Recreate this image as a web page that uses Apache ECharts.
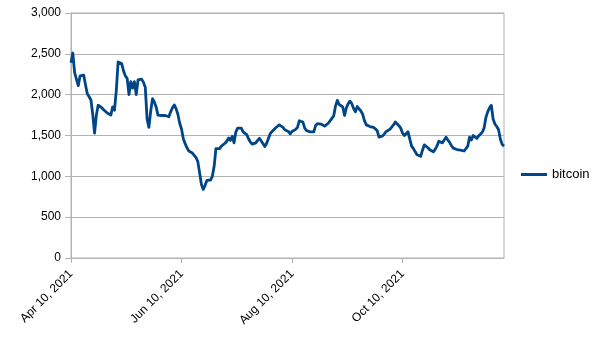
<!DOCTYPE html>
<html>
<head>
<meta charset="utf-8">
<script src="https://cdn.jsdelivr.net/npm/echarts@6/dist/echarts.min.js"></script>
<style>
html,body{margin:0;padding:0;background:#fff;}
#chart{width:605px;height:340px;}
</style>
</head>
<body>
<div id="chart"></div>
<script>
// Daily series starting Apr 10, 2021
var startDate = "2021-04-10";
var seriesName = "bitcoin";
var bitcoin = [
2390,2510,2270,2190,2110,2230,2250,2240,2120,2010,
1975,1935,1760,1530,1750,1870,1860,1840,1815,1800,
1775,1790,1750,1850,1810,2050,2400,2420,2380,2290,
2230,2200,2000,2160,2080,2160,2000,2180,2200,2190,
2150,2090,1700,1600,1800,1950,1910,1850,1750,1745,
1745,1740,1745,1750,1730,1790,1840,1875,1830,1760,
1650,1580,1460,1400,1350,1310,1295,1285,1265,1230,
1180,1040,900,840,890,950,955,955,1000,1120,
1340,1360,1340,1370,1380,1405,1430,1470,1440,1490,
1410,1545,1590,1610,1590,1545,1530,1510,1460,1420,
1395,1385,1410,1440,1465,1445,1400,1365,1405,1410,
1525,1550,1570,1595,1610,1630,1625,1600,1570,1590,
1550,1520,1550,1565,1575,1600,1680,1690,1665,1590,
1560,1550,1545,1535,1545,1620,1645,1650,1640,1630,
1615,1610,1650,1680,1710,1740,1860,1930,1880,1890,
1850,1745,1840,1890,1920,1890,1830,1790,1855,1845,
1800,1760,1680,1630,1620,1610,1605,1600,1585,1560,
1480,1460,1495,1520,1550,1565,1575,1590,1630,1665,
1650,1620,1590,1530,1500,1490,1545,1540,1370,1340,
1300,1265,1245,1245,1320,1385,1380,1350,1325,1305,
1300,1330,1370,1430,1420,1410,1420,1480,1445,1415,
1375,1345,1330,1328,1325,1322,1320,1310,1305,1370,
1480,1445,1500,1500,1465,1495,1500,1540,1590,1720,
1790,1840,1870,1700,1640,1610,1570,1455,1390,1370
];
var yTicks = [0, 500, 1000, 1500, 2000, 2500, 3000];
var labelEvery = 61; // Apr 10, Jun 10, Aug 10, Oct 10

var monthNames = ["Jan","Feb","Mar","Apr","May","Jun","Jul","Aug","Sep","Oct","Nov","Dec"];
var categories = [];
(function(){
  var p = startDate.split("-");
  var d0 = Date.UTC(+p[0], +p[1]-1, +p[2]);
  for (var i = 0; i < bitcoin.length; i++) {
    var d = new Date(d0 + i*86400000);
    categories.push(monthNames[d.getUTCMonth()] + " " + d.getUTCDate() + ", " + d.getUTCFullYear());
  }
})();

var font = "'Liberation Sans', Arial, sans-serif";
var chart = echarts.init(document.getElementById('chart'), null, {renderer:'canvas'});
chart.setOption({
  animation: false,
  backgroundColor: '#ffffff',
  grid: {left: 71, right: 101, top: 13, bottom: 82, show: true, borderColor: '#b3b3b3', borderWidth: 1, backgroundColor: 'transparent'},
  legend: {
    data: [seriesName],
    left: 516, top: 163,
    orient: 'vertical',
    icon: 'rect',
    itemWidth: 26, itemHeight: 3,
    itemGap: 5,
    textStyle: {fontFamily: font, fontSize: 13, color: '#000'}
  },
  xAxis: {
    type: 'category',
    data: categories,
    boundaryGap: false,
    axisLine: {show: true, lineStyle: {color: '#b3b3b3', width: 1}},
    axisTick: {show: true, length: 5, interval: function(i){ return i % labelEvery === 0; }, lineStyle: {color: '#b3b3b3'}},
    axisLabel: {
      interval: function(i){ return i % labelEvery === 0; },
      rotate: 45, margin: 14,
      fontFamily: font, fontSize: 12, color: '#000'
    },
    splitLine: {show: false}
  },
  yAxis: {
    type: 'value',
    min: yTicks[0], max: yTicks[yTicks.length-1], interval: 500,
    axisLine: {show: true, lineStyle: {color: '#b3b3b3', width: 1}},
    axisTick: {show: true, inside: false, length: 6, lineStyle: {color: '#b3b3b3'}},
    axisLabel: {
      margin: 10, fontFamily: font, fontSize: 12, color: '#000',
      formatter: function(v){ return v.toLocaleString('en-US'); }
    },
    splitLine: {show: true, lineStyle: {color: '#b3b3b3', width: 1}}
  },
  series: [{
    name: seriesName,
    type: 'line',
    data: bitcoin,
    showSymbol: false,
    symbol: 'none',
    lineStyle: {color: '#004586', width: 2.8, join: 'round'},
    itemStyle: {color: '#004586'}
  }]
});
</script>
</body>
</html>
